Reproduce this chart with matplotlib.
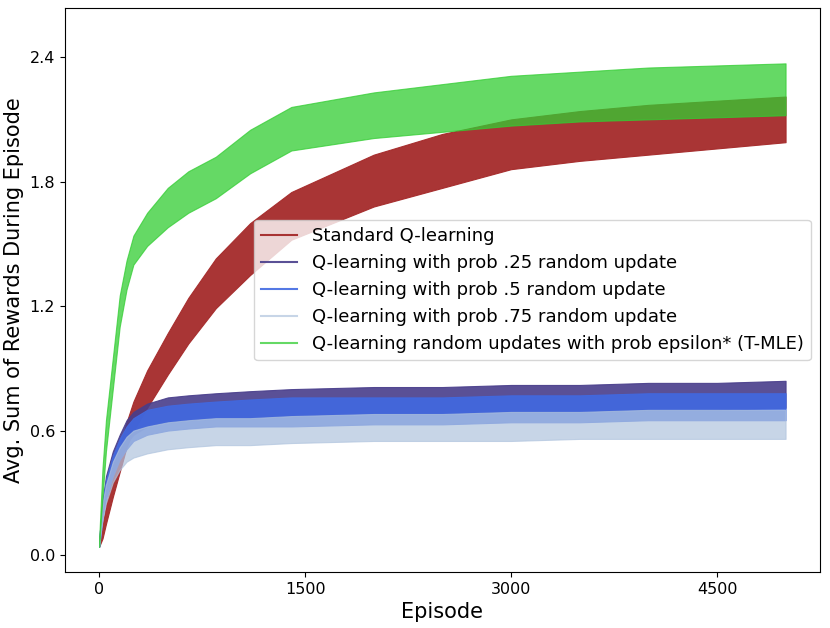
import matplotlib
matplotlib.use("Agg")
import matplotlib.pyplot as plt
from matplotlib.lines import Line2D

episodes = [0, 25, 50, 100, 150, 200, 250, 350, 500, 650, 850, 1100, 1400,
            2000, 2500, 3000, 3500, 4000, 4500, 4999]

# Standard Q-learning (lower / upper edge of the noisy trace)
std_low  = [0.04, 0.08, 0.15, 0.28, 0.40, 0.52, 0.60, 0.71, 0.87, 1.02, 1.19, 1.35, 1.52,
            1.68, 1.77, 1.86, 1.90, 1.93, 1.96, 1.99]
std_high = [0.07, 0.14, 0.24, 0.40, 0.52, 0.64, 0.74, 0.89, 1.07, 1.24, 1.43, 1.60, 1.75,
            1.93, 2.03, 2.10, 2.14, 2.17, 2.19, 2.21]

# Q-learning with prob .25 random update
p25_low  = [0.04, 0.18, 0.28, 0.40, 0.48, 0.54, 0.58, 0.62, 0.64, 0.65, 0.66, 0.66, 0.67,
            0.68, 0.68, 0.69, 0.69, 0.70, 0.70, 0.71]
p25_high = [0.07, 0.26, 0.38, 0.50, 0.58, 0.65, 0.69, 0.73, 0.76, 0.77, 0.78, 0.79, 0.80,
            0.81, 0.81, 0.82, 0.82, 0.83, 0.83, 0.84]

# Q-learning with prob .5 random update
p50_low  = [0.04, 0.18, 0.27, 0.38, 0.46, 0.51, 0.55, 0.58, 0.60, 0.61, 0.62, 0.62, 0.62,
            0.63, 0.63, 0.64, 0.64, 0.65, 0.65, 0.65]
p50_high = [0.07, 0.26, 0.36, 0.48, 0.56, 0.62, 0.66, 0.70, 0.72, 0.73, 0.74, 0.75, 0.76,
            0.76, 0.76, 0.77, 0.77, 0.78, 0.78, 0.78]

# Q-learning with prob .75 random update
p75_low  = [0.04, 0.17, 0.25, 0.35, 0.41, 0.45, 0.47, 0.49, 0.51, 0.52, 0.53, 0.53, 0.54,
            0.55, 0.55, 0.55, 0.56, 0.56, 0.56, 0.56]
p75_high = [0.07, 0.25, 0.34, 0.45, 0.52, 0.57, 0.60, 0.62, 0.64, 0.65, 0.66, 0.66, 0.67,
            0.68, 0.68, 0.69, 0.69, 0.70, 0.70, 0.70]

# Q-learning random updates with prob epsilon* (T-MLE)
eps_low  = [0.04, 0.28, 0.50, 0.80, 1.10, 1.28, 1.40, 1.49, 1.58, 1.65, 1.72, 1.84, 1.95,
            2.01, 2.04, 2.07, 2.09, 2.10, 2.11, 2.12]
eps_high = [0.07, 0.42, 0.65, 0.95, 1.25, 1.42, 1.54, 1.65, 1.77, 1.85, 1.92, 2.05, 2.16,
            2.23, 2.27, 2.31, 2.33, 2.35, 2.36, 2.37]

labels = ["Standard Q-learning",
          "Q-learning with prob .25 random update",
          "Q-learning with prob .5 random update",
          "Q-learning with prob .75 random update",
          "Q-learning random updates with prob epsilon* (T-MLE)"]

series = [(std_low, std_high, "brown", 0.95),
          (p25_low, p25_high, "darkslateblue", 0.9),
          (p50_low, p50_high, "royalblue", 0.9),
          (p75_low, p75_high, "lightsteelblue", 0.7),
          (eps_low, eps_high, "limegreen", 0.75)]

xticks = [0, 1500, 3000, 4500]
yticks = [0.0, 0.6, 1.2, 1.8, 2.4]

fig = plt.figure(figsize=(8.3, 6.28), dpi=100)
ax = fig.add_axes([0.078, 0.089, 0.910, 0.898])

handles = []
for (lo, hi, col, a), lab in zip(series, labels):
    ax.fill_between(episodes, lo, hi, color=col, alpha=a, linewidth=0.8,
                    edgecolor=col)
    handles.append(Line2D([], [], color=col, alpha=a, linewidth=1.5, label=lab))

ax.set_xlim(-250, 5250)
ax.set_ylim(-0.082, 2.636)
ax.set_xticks(xticks)
ax.set_xticklabels([str(t) for t in xticks])
ax.set_yticks(yticks)
ax.set_yticklabels([f"{t:.1f}" for t in yticks])
ax.tick_params(labelsize=11.5)
ax.set_xlabel("Episode", fontsize=15)
ax.set_ylabel("Avg. Sum of Rewards During Episode", fontsize=15)

ax.legend(handles=handles, loc="center right", fontsize=13)

fig.savefig("out.png", dpi=100)
